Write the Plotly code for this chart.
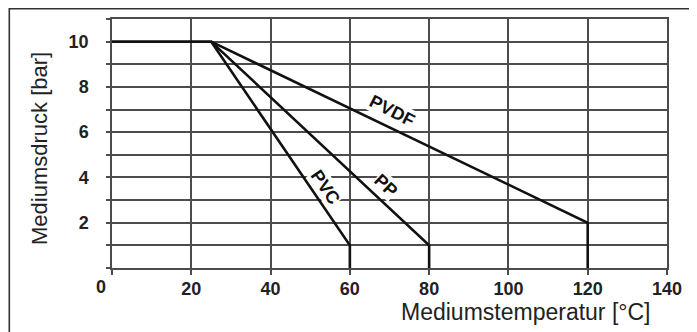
import plotly.graph_objects as go

# Data
pvc_x = [0, 25, 60, 60]
pvc_y = [10, 10, 1, 0]
pp_x = [25, 80, 80]
pp_y = [10, 1, 0]
pvdf_x = [25, 120, 120]
pvdf_y = [10, 2, 0]

x_ticks = [0, 20, 40, 60, 80, 100, 120, 140]
y_ticks = list(range(0, 12))
y_labels = {2: "2", 4: "4", 6: "6", 8: "8", 10: "10"}

labels = [
    ("PVDF", 70.7, 6.93, 27),
    ("PP", 69.2, 3.64, 43),
    ("PVC", 53.8, 3.58, 56),
]

FONT = "Liberation Sans, Arial, sans-serif"
OFF = 8  # page body margin
W, H = 697, 332
L, T = 112 - OFF, 19 - OFF
R = W - (667 - OFF)
B = H - (268 - OFF)
pw, ph = W - L - R, H - T - B

def px(xs):
    return (xs - OFF - L) / pw

def py(ys):
    return (H - B - (ys - OFF)) / ph

fig = go.Figure()
for xs, ys in [(pvc_x, pvc_y), (pp_x, pp_y), (pvdf_x, pvdf_y)]:
    fig.add_trace(go.Scatter(x=xs, y=ys, mode="lines",
                             line=dict(color="#111", width=2.6),
                             hoverinfo="skip", showlegend=False))

grid_c = "#4c4c4c"
fig.update_xaxes(range=[0, 140], tickvals=x_ticks,
                 ticktext=[""] + [f"<b>{v}</b>" for v in x_ticks[1:]],
                 showgrid=True, gridcolor=grid_c, gridwidth=1.5,
                 showline=True, linecolor=grid_c, linewidth=1.5, mirror=True,
                 ticks="outside", ticklen=5, tickcolor=grid_c, tickwidth=1.5,
                 tickfont=dict(family=FONT, size=18, color="#222"),
                 ticklabelstandoff=-1,
                 zeroline=False, fixedrange=True, automargin=False)
fig.update_yaxes(range=[0, 11], tickvals=y_ticks,
                 ticktext=[f"<b>{y_labels[v]}</b>" if v in y_labels else "" for v in y_ticks],
                 showgrid=True, gridcolor=grid_c, gridwidth=1.5,
                 showline=True, linecolor=grid_c, linewidth=1.5, mirror=True,
                 ticks="outside", ticklen=4, tickcolor=grid_c, tickwidth=1.5,
                 tickfont=dict(family=FONT, size=18, color="#222"),
                 ticklabelstandoff=14,
                 zeroline=False, fixedrange=True, automargin=False)

annotations = []
for name, ax, ay, ang in labels:
    annotations.append(dict(x=ax, y=ay, xref="x", yref="y", text=f"<b>{name}</b>",
                            showarrow=False, textangle=ang,
                            xanchor="center", yanchor="middle",
                            bgcolor="white", borderpad=0,
                            font=dict(family=FONT, size=18, color="#111")))
annotations.append(dict(x=px(101), y=py(287), xref="paper", yref="paper",
                        text="<b>0</b>", showarrow=False,
                        xanchor="center", yanchor="middle",
                        font=dict(family=FONT, size=18, color="#222")))
annotations.append(dict(x=px(653), y=py(312), xref="paper", yref="paper",
                        text="Mediumstemperatur [°C]", showarrow=False,
                        xanchor="right", yanchor="middle",
                        font=dict(family=FONT, size=23, color="#222")))
annotations.append(dict(x=px(39), y=py(149), xref="paper", yref="paper",
                        text="Mediumsdruck [bar]", showarrow=False, textangle=-90,
                        xanchor="center", yanchor="middle",
                        font=dict(family=FONT, size=22, color="#222")))

shapes = [dict(type="path", xref="paper", yref="paper",
               path=f"M {px(9.3)} {py(360)} L {px(9.3)} {py(8.6)} L {px(720)} {py(8.6)}",
               line=dict(color="#333", width=1.6))]

fig.update_layout(width=W, height=H, margin=dict(l=L, r=R, t=T, b=B),
                  plot_bgcolor="white", paper_bgcolor="white",
                  annotations=annotations, shapes=shapes)

fig.write_html("out.html")
